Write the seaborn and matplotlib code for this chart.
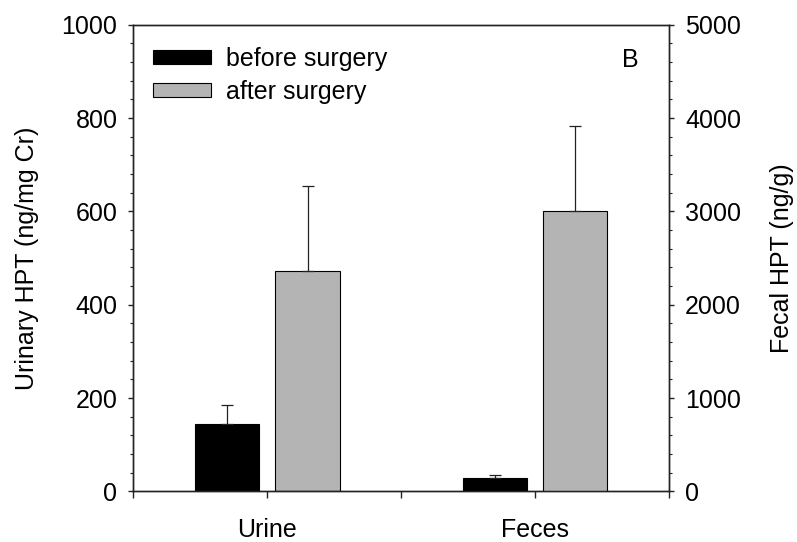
import matplotlib
matplotlib.use("Agg")
import matplotlib.pyplot as plt
import matplotlib.ticker as mticker
import seaborn as sns
import pandas as pd

# Sample types and surgery periods
sites = ["Urine", "Feces"]
periods = ["before surgery", "after surgery"]

# Urinary HPT (ng/mg Cr), left axis
urine_mean = [144, 472]
urine_err = [41, 183]

# Fecal HPT (ng/g), right axis
feces_mean = [141, 3000]
feces_err = [39, 915]

colors = ["#000000", "#b4b4b4"]

sns.set_theme(style="ticks")
plt.rcParams["font.family"] = ["Liberation Sans", "DejaVu Sans"]
plt.rcParams["axes.linewidth"] = 1.0
plt.rcParams["axes.edgecolor"] = "#222222"
plt.rcParams["text.color"] = "black"
plt.rcParams["axes.labelcolor"] = "black"
plt.rcParams["xtick.labelcolor"] = "black"
plt.rcParams["ytick.labelcolor"] = "black"

urine_df = pd.DataFrame({"site": "Urine", "period": periods, "value": urine_mean})
feces_df = pd.DataFrame({"site": "Feces", "period": periods, "value": feces_mean})
err_lookup = {("Urine", p): e for p, e in zip(periods, urine_err)}
err_lookup.update({("Feces", p): e for p, e in zip(periods, feces_err)})

fig = plt.figure(figsize=(7.97, 5.42), dpi=100)
ax = fig.add_axes([0.1675, 0.0932, 0.6719, 0.8612])
ax2 = ax.twinx()

bar_kw = dict(x="site", y="value", hue="period", order=sites, hue_order=periods,
              palette=colors, width=0.6, gap=0.2, edgecolor="black",
              linewidth=0.8, saturation=1, legend=False)
sns.barplot(data=urine_df, ax=ax, **bar_kw)
sns.barplot(data=feces_df, ax=ax2, **bar_kw)

leg = ax.legend(ax.containers[:2], periods, loc="upper left",
                bbox_to_anchor=(-0.005, 1.0), frameon=False, fontsize=18,
                handlelength=2.3, handleheight=0.5, handletextpad=0.6,
                labelspacing=0.34)


def add_errors(axis):
    for level, container in zip(periods, list(axis.containers)[:2]):
        for bar in container:
            h = bar.get_height()
            if not h == h:
                continue
            xc = bar.get_x() + bar.get_width() / 2
            site = sites[int(round(xc))]
            axis.errorbar(xc, h, yerr=[[0], [err_lookup[(site, level)]]],
                          fmt="none", ecolor="#222222", elinewidth=0.9,
                          capsize=4.4, capthick=0.9, zorder=1)


add_errors(ax)
add_errors(ax2)

ax.set_xlim(-0.5, 1.5)
ax.set_ylim(0, 1000)
ax2.set_ylim(0, 5000)

ax.set_xticks([-0.5, 0, 0.5, 1, 1.5])
ax.set_xticklabels(["", "Urine", "", "Feces", ""])
ax.yaxis.set_major_locator(mticker.MultipleLocator(200))
ax.yaxis.set_minor_locator(mticker.MultipleLocator(40))
ax2.yaxis.set_major_locator(mticker.MultipleLocator(1000))
ax2.yaxis.set_minor_locator(mticker.MultipleLocator(200))

ax.tick_params(axis="x", which="major", direction="out", length=5, width=1,
               labelsize=18, pad=14, color="#222222")
ax.tick_params(axis="y", which="major", direction="out", length=3.6, width=1,
               labelsize=18, pad=8, color="#222222")
ax.tick_params(axis="y", which="minor", direction="out", length=2, width=0.8,
               color="#222222")
ax2.tick_params(axis="y", which="major", direction="out", length=3.6, width=1,
                labelsize=18, pad=8, color="#222222")
ax2.tick_params(axis="y", which="minor", direction="out", length=2, width=0.8,
                color="#222222")

ax.set_xlabel("")
ax.set_ylabel("Urinary HPT (ng/mg Cr)", fontsize=18, labelpad=16)
ax2.set_xlabel("")
ax2.set_ylabel("Fecal HPT (ng/g)", fontsize=18, labelpad=21)

for a in (ax, ax2):
    for s in a.spines.values():
        s.set_visible(True)
        s.set_color("#222222")
        s.set_linewidth(1.0)

ax.text(0.928, 0.925, "B", transform=ax.transAxes, fontsize=18,
        ha="center", va="center")

fig.savefig("out.png", dpi=100)
